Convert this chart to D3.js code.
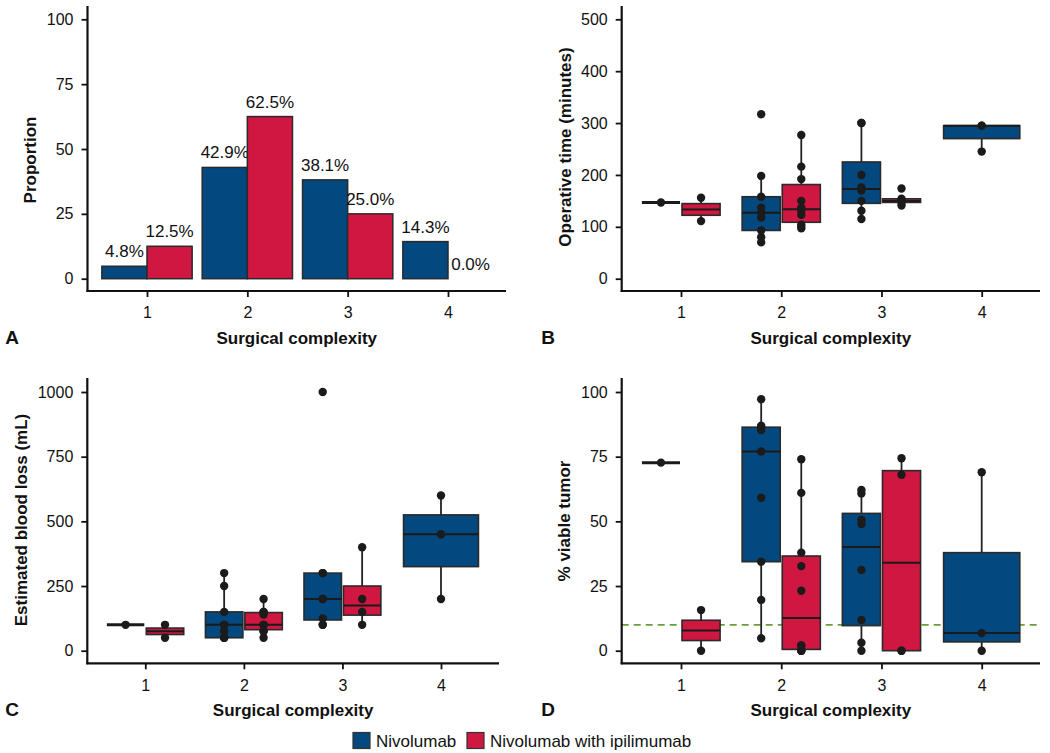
<!DOCTYPE html>
<html><head><meta charset="utf-8">
<script src="https://cdn.jsdelivr.net/npm/d3@7"></script>
<style>
html,body{margin:0;padding:0;background:#fff;}
svg{display:block;font-family:"Liberation Sans",Arial,Helvetica,sans-serif;}
</style></head>
<body>
<svg id="chart" width="1050" height="753"></svg>
<script>
// ---------- DATA ----------
const categories = ["1", "2", "3", "4"];
const groups = ["Nivolumab", "Nivolumab with ipilimumab"];
const groupColors = ["#03487F", "#CF1741"];

// Panel A: proportion (%)
const propNivo = [4.8, 42.9, 38.1, 14.3];
const propNivoIpi = [12.5, 62.5, 25.0, 0.0];
const propTicks = [0, 25, 50, 75, 100];

// Panel B: operative time (minutes)
const opTimeNivo = [[147], [70, 80, 93, 118, 127, 137, 158, 198, 317], [115, 131, 150, 170, 176, 200, 300, 300], [245, 295, 295]];
const opTimeNivoIpi = [[111, 156], [97, 100, 104, 123, 131, 137, 150, 192, 216, 277], [141, 147, 150, 154, 174], []];
const opTimeTicks = [0, 100, 200, 300, 400, 500];

// Panel C: estimated blood loss (mL)
const bloodNivo = [[100], [50, 50, 50, 75, 100, 100, 150, 250, 300], [100, 100, 125, 200, 200, 300, 300, 1000], [200, 450, 600]];
const bloodNivoIpi = [[50, 100], [50, 75, 75, 100, 100, 100, 140, 150, 150, 200], [100, 150, 200, 400], []];
const bloodTicks = [0, 250, 500, 750, 1000];

// Panel D: % viable tumor
const tumorNivo = [[72.7], [4.8, 19.6, 34.4, 59.1, 77, 85.3, 86.4, 87, 97.2], [0, 3.1, 11.9, 31.2, 49, 50.5, 60.8, 62.1], [0, 6.8, 69]];
const tumorNivoIpi = [[0, 15.7], [0, 0, 0, 2, 2, 23.2, 32.7, 37.9, 61, 74], [0, 0, 68, 74.4], []];
const tumorTicks = [0, 25, 50, 75, 100];
const tumorThreshold = 10;

// ---------- DRAW ----------
const svg = d3.select("#chart");
const axisColor = "#111";

function axes(g, cfg, x, y) {
  const ya = g.append("g").attr("transform", `translate(${cfg.axisX},0)`)
    .call(d3.axisLeft(y).tickValues(cfg.ticks).tickFormat(d3.format("d")).tickSize(6).tickPadding(8));
  ya.select(".domain").remove();
  ya.selectAll("line").attr("stroke", axisColor).attr("stroke-width", 1.8);
  ya.selectAll("text").attr("font-size", 16).attr("fill", "#111").attr("font-family", "Liberation Sans, Arial, sans-serif");

  const xa = g.append("g").attr("transform", `translate(0,${cfg.axisY})`)
    .call(d3.axisBottom(x).tickValues([1, 2, 3, 4]).tickFormat(d => categories[d - 1]).tickSize(6).tickPadding(10));
  xa.select(".domain").remove();
  xa.selectAll("line").attr("stroke", axisColor).attr("stroke-width", 1.8);
  xa.selectAll("text").attr("font-size", 16).attr("fill", "#111").attr("font-family", "Liberation Sans, Arial, sans-serif");

  g.append("line").attr("x1", cfg.axisX).attr("x2", cfg.axisX).attr("y1", cfg.topY).attr("y2", cfg.axisY + 1)
    .attr("stroke", axisColor).attr("stroke-width", 2.2);
  g.append("line").attr("x1", cfg.axisX - 1).attr("x2", cfg.xRight).attr("y1", cfg.axisY).attr("y2", cfg.axisY)
    .attr("stroke", axisColor).attr("stroke-width", 2.2);

  g.append("text").attr("x", (cfg.axisX + cfg.xRight) / 2).attr("y", cfg.axisY + 53)
    .attr("text-anchor", "middle").attr("font-size", 17).attr("font-weight", "bold").attr("fill", "#111")
    .text("Surgical complexity");
  g.append("text").attr("transform", `translate(${cfg.ylabX + 6},${cfg.ylabY}) rotate(-90)`)
    .attr("text-anchor", "middle").attr("font-size", 17).attr("font-weight", "bold").attr("fill", "#111")
    .text(cfg.ylabel);
  g.append("text").attr("x", cfg.letterX).attr("y", cfg.axisY + 53)
    .attr("text-anchor", "middle").attr("font-size", 19).attr("font-weight", "bold").attr("fill", "#111")
    .text(cfg.letter);
}

// Panel A
(function () {
  const cfg = { axisX: 87.5, xRight: 506, axisY: 291, topY: 6, ticks: propTicks, ylabel: "Proportion", ylabX: 30, ylabY: 160, letter: "A", letterX: 12 };
  const x = d3.scaleLinear().domain([1, 4]).range([147, 448]);
  const y = d3.scaleLinear().domain([0, 100]).range([278.7, 19.3]);
  const g = svg.append("g");
  const bw = x(1.45) - x(1);
  [propNivo, propNivoIpi].forEach((vals, gi) => {
    vals.forEach((v, i) => {
      const left = gi === 0 ? x(i + 1 - 0.45) : x(i + 1);
      if (v > 0) {
        g.append("rect").attr("x", left).attr("y", y(v)).attr("width", bw).attr("height", y(0) - y(v))
          .attr("fill", groupColors[gi]).attr("stroke", "#2a2a2a").attr("stroke-width", 1.5);
      }
      g.append("text").attr("x", left + bw / 2).attr("y", y(v) - 9).attr("text-anchor", "middle")
        .attr("font-size", 17).attr("fill", "#111").text(v.toFixed(1) + "%");
    });
  });
  axes(g, cfg, x, y);
})();

function boxPanel(cfg, dataA, dataB) {
  const x = d3.scaleLinear().domain([1, 4]).range([cfg.x1, cfg.x4]);
  const y = d3.scaleLinear().domain([0, cfg.ticks[cfg.ticks.length - 1]]).range([cfg.y0, cfg.yTop]);
  const g = svg.append("g");
  if (cfg.threshold !== undefined) {
    g.append("line").attr("x1", cfg.axisX).attr("x2", cfg.xRight).attr("y1", y(cfg.threshold)).attr("y2", y(cfg.threshold))
      .attr("stroke", "#6A9E3A").attr("stroke-width", 1.6).attr("stroke-dasharray", "7,5");
  }
  const pts = [];
  [dataA, dataB].forEach((data, gi) => {
    const other = gi === 0 ? dataB : dataA;
    data.forEach((vals, i) => {
      if (!vals.length) return;
      const single = other[i].length === 0;
      const c = single ? i + 1 : i + 1 + (gi === 0 ? -0.2 : 0.2);
      const w = single ? 0.76 : 0.38;
      const s = vals.slice().sort(d3.ascending);
      const q1 = d3.quantile(s, 0.25), med = d3.quantile(s, 0.5), q3 = d3.quantile(s, 0.75);
      const iqr = q3 - q1;
      const lo = d3.min(s.filter(v => v >= q1 - 1.5 * iqr));
      const hi = d3.max(s.filter(v => v <= q3 + 1.5 * iqr));
      const cx = x(c), hw = (x(c + w / 2) - x(c - w / 2)) / 2;
      g.append("line").attr("x1", cx).attr("x2", cx).attr("y1", y(hi)).attr("y2", y(q3)).attr("stroke", "#222").attr("stroke-width", 1.8);
      g.append("line").attr("x1", cx).attr("x2", cx).attr("y1", y(lo)).attr("y2", y(q1)).attr("stroke", "#222").attr("stroke-width", 1.8);
      g.append("rect").attr("x", cx - hw).attr("width", 2 * hw).attr("y", y(q3)).attr("height", Math.max(0, y(q1) - y(q3)))
        .attr("fill", groupColors[gi]).attr("stroke", "#2a2a2a").attr("stroke-width", 1.6);
      g.append("line").attr("x1", cx - hw).attr("x2", cx + hw).attr("y1", y(med)).attr("y2", y(med))
        .attr("stroke", "#1a1a1a").attr("stroke-width", vals.length === 1 ? 3 : 2);
      s.forEach(v => pts.push([cx, y(v)]));
    });
  });
  g.selectAll("circle.pt").data(pts).enter().append("circle").attr("class", "pt")
    .attr("cx", d => d[0]).attr("cy", d => d[1]).attr("r", 4.2).attr("fill", "#1b1b1b");
  axes(g, cfg, x, y);
}

boxPanel({ axisX: 621.7, xRight: 1040, axisY: 291, topY: 6, x1: 681, x4: 981.7, y0: 278.7, yTop: 19.3,
  ticks: opTimeTicks, ylabel: "Operative time (minutes)", ylabX: 565, ylabY: 147, letter: "B", letterX: 548 },
  opTimeNivo, opTimeNivoIpi);

boxPanel({ axisX: 87.3, xRight: 499, axisY: 663.3, topY: 378, x1: 145.3, x4: 441, y0: 650.7, yTop: 392,
  ticks: bloodTicks, ylabel: "Estimated blood loss (mL)", ylabX: 21, ylabY: 520, letter: "C", letterX: 12 },
  bloodNivo, bloodNivoIpi);

boxPanel({ axisX: 621.7, xRight: 1040, axisY: 663.3, topY: 378, x1: 681, x4: 981.7, y0: 650.7, yTop: 392,
  ticks: tumorTicks, ylabel: "% viable tumor", ylabX: 564, ylabY: 521, letter: "D", letterX: 548, threshold: tumorThreshold },
  tumorNivo, tumorNivoIpi);

// Legend
const legend = svg.append("g");
const legendX = [353, 467];
groups.forEach((name, i) => {
  legend.append("rect").attr("x", legendX[i]).attr("y", 732.5).attr("width", 17).attr("height", 16)
    .attr("fill", groupColors[i]).attr("stroke", "#333").attr("stroke-width", 1.2);
  legend.append("text").attr("x", legendX[i] + 23).attr("y", 746.5).attr("font-size", 17).attr("fill", "#111").text(name);
});
</script>
</body></html>
